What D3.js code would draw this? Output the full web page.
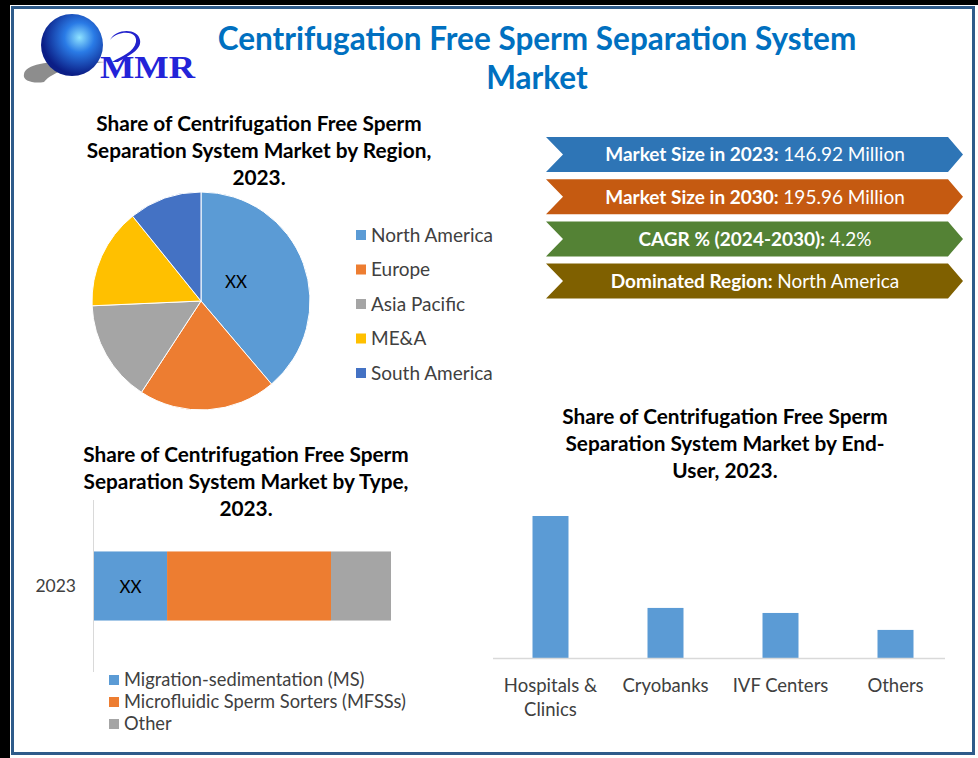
<!DOCTYPE html>
<html>
<head>
<meta charset="utf-8">
<script src="https://cdn.jsdelivr.net/npm/d3@7"></script>
<style>
  html, body { margin: 0; padding: 0; background: #000; }
  text { font-family: Lato, "Open Sans", sans-serif; }
</style>
</head>
<body>
<div id="chart"></div>
<script>
// region pie
const regions = ["North America", "Europe", "Asia Pacific", "ME&A", "South America"];
const regionShare = [38.8, 20.4, 15.1, 14.9, 10.8];
const regionColors = ["#5b9bd5", "#ed7d31", "#a5a5a5", "#ffc000", "#4472c4"];

// type stacked bar
const typeYears = ["2023"];
const types = ["Migration-sedimentation (MS)", "Microfluidic Sperm Sorters (MFSSs)", "Other"];
const typeShare = [24.6, 55.2, 20.2];
const typeColors = ["#5b9bd5", "#ed7d31", "#a5a5a5"];

// end-user columns
const endUsers = [["Hospitals &", "Clinics"], ["Cryobanks"], ["IVF Centers"], ["Others"]];
const endUserShare = [53.6, 18.9, 17.0, 10.6];

// key figures
const banners = [
  { bold: "Market Size in 2023: ", normal: "146.92 Million", color: "#2e75b6" },
  { bold: "Market Size in 2030: ", normal: "195.96 Million", color: "#c55a11" },
  { bold: "CAGR % (2024-2030): ", normal: "4.2%", color: "#548235" },
  { bold: "Dominated Region: ", normal: "North America", color: "#7f6000" }
];

const W = 978, H = 758;
const svg = d3.select("#chart").append("svg")
  .attr("width", W).attr("height", H)
  .style("display", "block");

// background + frame
svg.append("rect").attr("width", W).attr("height", H).attr("fill", "#000");
svg.append("rect").attr("x", 10).attr("y", 5).attr("width", W - 10).attr("height", H - 5).attr("fill", "#fff");
svg.append("rect").attr("x", 12.5).attr("y", 7.5).attr("width", 961).attr("height", 746)
  .attr("fill", "none").attr("stroke", "#2f5b8a").attr("stroke-width", 3);

// logo
const logo = svg.append("g");
const grad = svg.append("defs").append("radialGradient").attr("id", "globe")
  .attr("cx", "62%").attr("cy", "38%").attr("r", "60%");
grad.append("stop").attr("offset", "0%").attr("stop-color", "#8fe3ff");
grad.append("stop").attr("offset", "40%").attr("stop-color", "#2a7be6");
grad.append("stop").attr("offset", "100%").attr("stop-color", "#0b1e86");
logo.append("path")
  .attr("d", "M24,74 C26,62 60,60 106,62 C76,64 52,72 44,82 C34,84 22,81 24,74 Z")
  .attr("fill", "#8d8d8d");
logo.append("circle").attr("cx", 72).attr("cy", 45).attr("r", 31)
  .attr("fill", "url(#globe)");
logo.append("path")
  .attr("d", "M110,40 C118,30 138,30 136,42 C134,52 122,56 112,62 L118,62 C128,56 142,50 140,40 C138,28 116,28 110,40 Z")
  .attr("fill", "#2222cc");
logo.append("text").attr("x", 100).attr("y", 78)
  .attr("textLength", 95).attr("lengthAdjust", "spacingAndGlyphs")
  .style("font-family", "'Liberation Serif', serif").style("font-weight", "bold")
  .style("font-size", "32px").attr("fill", "#2323d8").text("MMR");

// main title
const title = svg.append("text").attr("text-anchor", "middle")
  .attr("fill", "#0070c0").style("font-weight", "bold").style("font-size", "31.5px");
title.append("tspan").attr("x", 537).attr("y", 50).text("Centrifugation Free Sperm Separation System");
title.append("tspan").attr("x", 537).attr("y", 89).text("Market");

function blockTitle(lines, cx, y0) {
  const t = svg.append("text").attr("text-anchor", "middle").attr("fill", "#000")
    .style("font-weight", "bold").style("font-size", "20.8px");
  lines.forEach((l, i) => t.append("tspan").attr("x", cx).attr("y", y0 + i * 27).text(l));
}

// ---- pie by region
blockTitle(["Share of Centrifugation Free Sperm", "Separation System Market by Region,", "2023."], 259, 131);

const pie = d3.pie().sort(null)(regionShare);
const arc = d3.arc().innerRadius(0).outerRadius(109);
const pieG = svg.append("g").attr("transform", "translate(201,301)");
pieG.selectAll("path").data(pie).enter().append("path")
  .attr("d", arc)
  .attr("fill", (d, i) => regionColors[i])
  .attr("stroke", "#fff").attr("stroke-width", 1);
pieG.append("text").attr("x", 35).attr("y", -19).attr("text-anchor", "middle")
  .attr("dy", "0.35em").style("font-size", "17px").attr("fill", "#000").text("XX");

const leg = svg.append("g").attr("transform", "translate(356,235)");
regions.forEach((r, i) => {
  const g = leg.append("g").attr("transform", `translate(0,${i * 34.5})`);
  g.append("rect").attr("x", 0).attr("y", -5).attr("width", 10).attr("height", 10).attr("fill", regionColors[i]);
  g.append("text").attr("x", 15).attr("dy", "0.35em").style("font-size", "19px")
    .attr("fill", "#404040").text(r);
});

// ---- key figure banners
banners.forEach((b, i) => {
  const y0 = 137 + i * 42.2, y1 = y0 + 35, ym = (y0 + y1) / 2;
  const x0 = 546, x1 = 963;
  svg.append("path")
    .attr("d", `M${x0},${y0}L${x1 - 15},${y0}L${x1},${ym}L${x1 - 15},${y1}L${x0},${y1}L${x0 + 17},${ym}Z`)
    .attr("fill", b.color);
  const t = svg.append("text").attr("x", 755).attr("y", ym).attr("dy", "0.36em")
    .attr("text-anchor", "middle").attr("fill", "#fff").style("font-size", "19px");
  t.append("tspan").style("font-weight", "bold").text(b.bold);
  t.append("tspan").text(b.normal);
});

// ---- stacked bar by type
blockTitle(["Share of Centrifugation Free Sperm", "Separation System Market by Type,", "2023."], 246, 462);

const xT = d3.scaleLinear().domain([0, 100]).range([94, 391]);
const yT = d3.scaleBand().domain(typeYears).range([500, 672]).padding(0.427);
svg.append("line").attr("x1", 93.5).attr("x2", 93.5).attr("y1", 500).attr("y2", 672)
  .attr("stroke", "#d9d9d9");
let acc = 0;
const stacked = typeShare.map(v => { const s = acc; acc += v; return [s, acc]; });
svg.selectAll(".tbar").data(stacked).enter().append("rect")
  .attr("x", d => xT(d[0])).attr("width", d => xT(d[1]) - xT(d[0]))
  .attr("y", yT("2023")).attr("height", yT.bandwidth())
  .attr("fill", (d, i) => typeColors[i]);
svg.append("text").attr("x", xT(stacked[0][0] + typeShare[0] / 2)).attr("y", yT("2023") + yT.bandwidth() / 2)
  .attr("dy", "0.4em").attr("text-anchor", "middle").style("font-size", "17px").attr("fill", "#000").text("XX");
svg.append("text").attr("x", 76).attr("y", yT("2023") + yT.bandwidth() / 2).attr("dy", "0.35em")
  .attr("text-anchor", "end").style("font-size", "17.5px").attr("fill", "#404040").text(typeYears[0]);

const leg2 = svg.append("g").attr("transform", "translate(109,680)");
types.forEach((t, i) => {
  const g = leg2.append("g").attr("transform", `translate(0,${i * 22})`);
  g.append("rect").attr("x", 0).attr("y", -5).attr("width", 10).attr("height", 10).attr("fill", typeColors[i]);
  g.append("text").attr("x", 15).attr("dy", "0.35em").style("font-size", "18.3px")
    .attr("fill", "#404040").text(t);
});

// ---- columns by end-user
blockTitle(["Share of Centrifugation Free Sperm", "Separation System Market by End-", "User, 2023."], 725, 424);

const xE = d3.scaleBand().domain(endUsers.map(d => d.join(" "))).range([493, 953])
  .paddingInner(0.687).paddingOuter(0.3435);
const yE = d3.scaleLinear().domain([0, d3.max(endUserShare)]).range([658, 516]);
svg.selectAll(".ebar").data(endUserShare).enter().append("rect")
  .attr("x", (d, i) => xE(endUsers[i].join(" ")))
  .attr("width", xE.bandwidth())
  .attr("y", d => yE(d)).attr("height", d => yE(0) - yE(d))
  .attr("fill", "#5b9bd5");
svg.append("line").attr("x1", 493).attr("x2", 945).attr("y1", 658.5).attr("y2", 658.5)
  .attr("stroke", "#d9d9d9").attr("stroke-width", 1.5);
endUsers.forEach(lines => {
  const cx = xE(lines.join(" ")) + xE.bandwidth() / 2;
  const t = svg.append("text").attr("text-anchor", "middle").style("font-size", "18.5px").attr("fill", "#404040");
  lines.forEach((l, j) => t.append("tspan").attr("x", cx).attr("y", 692 + j * 24).text(l));
});
</script>
</body>
</html>
